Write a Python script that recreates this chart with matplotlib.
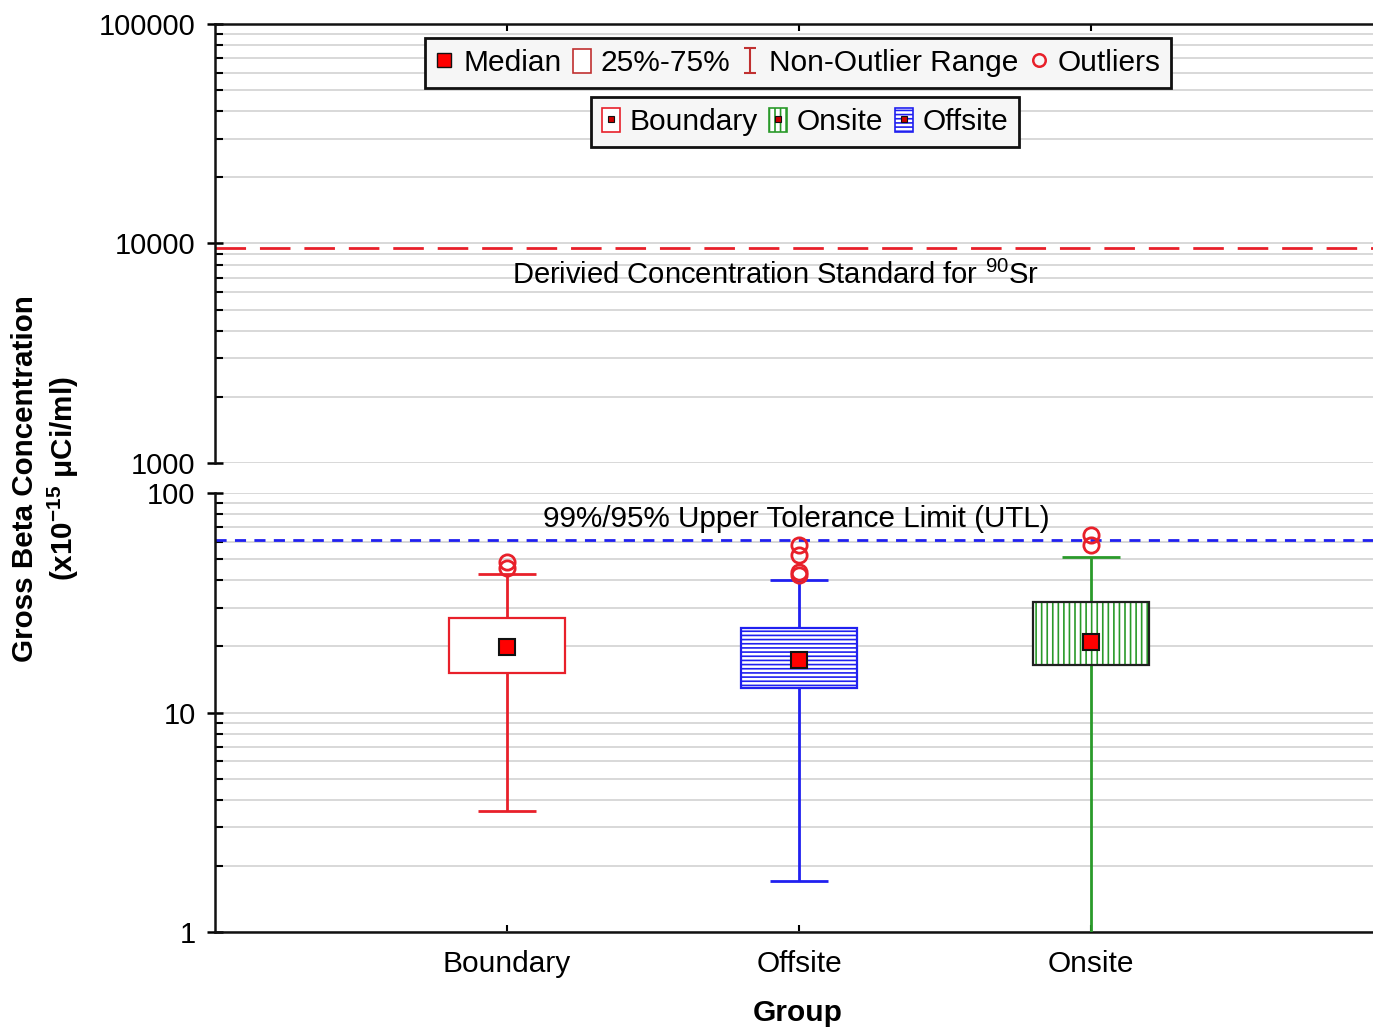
import matplotlib
matplotlib.use("Agg")
import matplotlib.pyplot as plt
from matplotlib.patches import Rectangle, Patch
from matplotlib.lines import Line2D
from matplotlib.path import Path
from matplotlib.legend_handler import HandlerTuple
import numpy as np

plt.rcParams['font.family'] = ['Liberation Sans', 'DejaVu Sans']
plt.rcParams['mathtext.default'] = 'regular'
plt.rcParams['hatch.linewidth'] = 1.2

# ---- data ----
groups = ["Boundary", "Offsite", "Onsite"]
q1 = [15.1, 12.9, 16.5]
q3 = [26.9, 24.3, 31.9]
medians = [19.9, 17.3, 20.9]
whisk_lo = [3.56, 1.71, 0.95]
whisk_hi = [42.8, 40.1, 51.1]
outliers = [[48.5, 45.5], [58.0, 52.2, 43.6, 42.4], [64.4, 58.0]]
colors = ["#e8202a", "#2020f0", "#2a9a2a"]
hatches = [None, "----", "|||"]
box_edges = ["#e8202a", "#2020f0", "#202020"]
utl = 61.1
dcs = 9500.0
upper_ticks = [1000, 10000, 100000]
lower_ticks = [1, 10, 100]

W, H = 1373, 1031
fig = plt.figure(figsize=(W / 100, H / 100), dpi=100)
fig.patch.set_facecolor("white")

left = 215 / W
right = 1383 / W
ax_up = fig.add_axes([left, 1 - 463 / H, right - left, (463 - 24) / H])
ax_lo = fig.add_axes([left, 1 - 932 / H, right - left, (932 - 493) / H])

FS = 21
x = np.arange(1, len(groups) + 1)
for ax in (ax_up, ax_lo):
    ax.set_yscale("log")
    ax.set_xlim(0, 4)
    ax.grid(True, which="both", axis="y", color="#d6d6d6", lw=1.3)
    ax.set_axisbelow(True)
    ax.spines["right"].set_visible(False)
    for s in ax.spines.values():
        s.set_linewidth(1.8)
        s.set_color("#111111")
    ax.tick_params(axis="y", which="major", direction="inout", length=12, width=1.8,
                   labelsize=FS, pad=8)
    ax.tick_params(axis="y", which="minor", direction="in", length=6, width=1.5, labelleft=False)

ax_up.set_ylim(1000, 100000)
ax_lo.set_ylim(1, 100)
ax_up.spines["bottom"].set_visible(False)
ax_lo.spines["top"].set_visible(False)
ax_up.set_yticks(upper_ticks, [str(t) for t in upper_ticks])
ax_lo.set_yticks(lower_ticks, [str(t) for t in lower_ticks])
ax_up.set_xticks(x)
ax_up.tick_params(axis="x", which="both", bottom=False, labelbottom=False, top=True,
                  direction="in", length=5, width=1.5)
ax_lo.set_xticks(x, groups)
ax_lo.tick_params(axis="x", direction="in", length=5, width=1.5, labelsize=FS + 0.5, pad=13)

# DCS line
ax_up.axhline(dcs, color="#e8202a", lw=2, dashes=(11, 5))
ax_up.text(1.92, 7186, r"Derivied Concentration Standard for $^{90}$Sr", ha="center",
           va="center", fontsize=FS)

# UTL line
ax_lo.axhline(utl, color="#2020f0", lw=2, dashes=(4, 3))
ax_lo.text(1.99, 76, "99%/95% Upper Tolerance Limit (UTL)", ha="center", va="center",
           fontsize=FS + 0.3)

bw = 0.40
cw = 0.20
for i, xi in enumerate(x):
    c = colors[i]
    # whiskers
    ax_lo.vlines(xi, whisk_lo[i], q1[i], color=c, lw=2, zorder=3)
    ax_lo.vlines(xi, q3[i], whisk_hi[i], color=c, lw=2, zorder=3)
    ax_lo.hlines([whisk_lo[i], whisk_hi[i]], xi - cw / 2, xi + cw / 2, color=c, lw=2, zorder=3)
    # box
    if hatches[i]:
        ax_lo.add_patch(Rectangle((xi - bw / 2, q1[i]), bw, q3[i] - q1[i], facecolor="white",
                                  edgecolor=c, hatch=hatches[i], lw=0, zorder=4))
    else:
        ax_lo.add_patch(Rectangle((xi - bw / 2, q1[i]), bw, q3[i] - q1[i], facecolor="white",
                                  edgecolor="none", zorder=4))
    ax_lo.add_patch(Rectangle((xi - bw / 2, q1[i]), bw, q3[i] - q1[i], facecolor="none",
                              edgecolor=box_edges[i], lw=1.6, zorder=5))
    # median
    ax_lo.plot([xi], [medians[i]], marker="s", ms=11.5, mfc="#ff0000", mec="#111111", mew=1.5,
               ls="none", zorder=6)
    # outliers
    ax_lo.plot([xi] * len(outliers[i]), outliers[i], marker="o", ms=11, mfc="none",
               mec="#e8202a", mew=2, ls="none", zorder=6)

# ---- legends ----
ibeam = Path([(-0.5, 1), (0.5, 1), (0, 1), (0, -1), (-0.5, -1), (0.5, -1)],
             [Path.MOVETO, Path.LINETO, Path.MOVETO, Path.LINETO, Path.MOVETO, Path.LINETO])
LFS = 21.5
h_med = Line2D([], [], marker="s", ms=10, mfc="#ff0000", mec="#111111", mew=1, ls="none")
h_box = Patch(facecolor="white", edgecolor="#c03030", lw=1.2)
h_rng = Line2D([], [], marker=ibeam, ms=18, mec="#c03030", mfc="none", mew=1.5, ls="none")
h_out = Line2D([], [], marker="o", ms=9, mfc="none", mec="#e8202a", mew=1.8, ls="none")
leg1 = ax_up.legend([h_med, h_box, h_rng, h_out],
                    ["Median", "25%-75%", "Non-Outlier Range", "Outliers"],
                    loc="center", ncol=4, fontsize=LFS, handlelength=0.6, handleheight=0.85,
                    handletextpad=0.33, columnspacing=0.38, borderpad=0.35, borderaxespad=0,
                    fancybox=False, framealpha=1, edgecolor="#111111", facecolor="#f6f6f6")
leg1.get_frame().set_linewidth(2)
leg1.set_bbox_to_anchor((798 / W, 1 - 63 / H), transform=fig.transFigure)
ax_up.add_artist(leg1)

sq = Line2D([], [], marker="s", ms=5, mfc="#cc0000", mec="#111111", mew=0.8, ls="none")
h_b = (Patch(facecolor="white", edgecolor="#e8202a", lw=1.2), sq)
h_on = (Patch(facecolor="white", edgecolor="#2a9a2a", hatch="|||", lw=1.2), sq)
h_off = (Patch(facecolor="white", edgecolor="#2020f0", hatch="----", lw=1.2), sq)
leg2 = ax_up.legend([h_b, h_on, h_off], ["Boundary", "Onsite", "Offsite"],
                    handler_map={tuple: HandlerTuple(ndivide=1, pad=0)},
                    loc="center", ncol=3, fontsize=LFS, handlelength=0.6, handleheight=0.85,
                    handletextpad=0.33, columnspacing=0.38, borderpad=0.35, borderaxespad=0,
                    fancybox=False, framealpha=1, edgecolor="#111111", facecolor="#f6f6f6")
leg2.get_frame().set_linewidth(2)
leg2.set_bbox_to_anchor((805 / W, 1 - 122 / H), transform=fig.transFigure)

# labels
fig.text(25 / W, 1 - 479 / H, "Gross Beta Concentration", rotation=90, ha="center", va="center",
         fontsize=FS + 0.3, fontweight="bold")
fig.text(63 / W, 1 - 479 / H, r"(x10$^{-15}$ $\mu$Ci/ml)", rotation=90, ha="center", va="center",
         fontsize=FS + 0.3, fontweight="bold")
fig.text(798 / W, 1 - 1013 / H, "Group", ha="center", va="center", fontsize=FS + 0.5,
         fontweight="bold")

fig.savefig("out.png", dpi=100, facecolor="white")
